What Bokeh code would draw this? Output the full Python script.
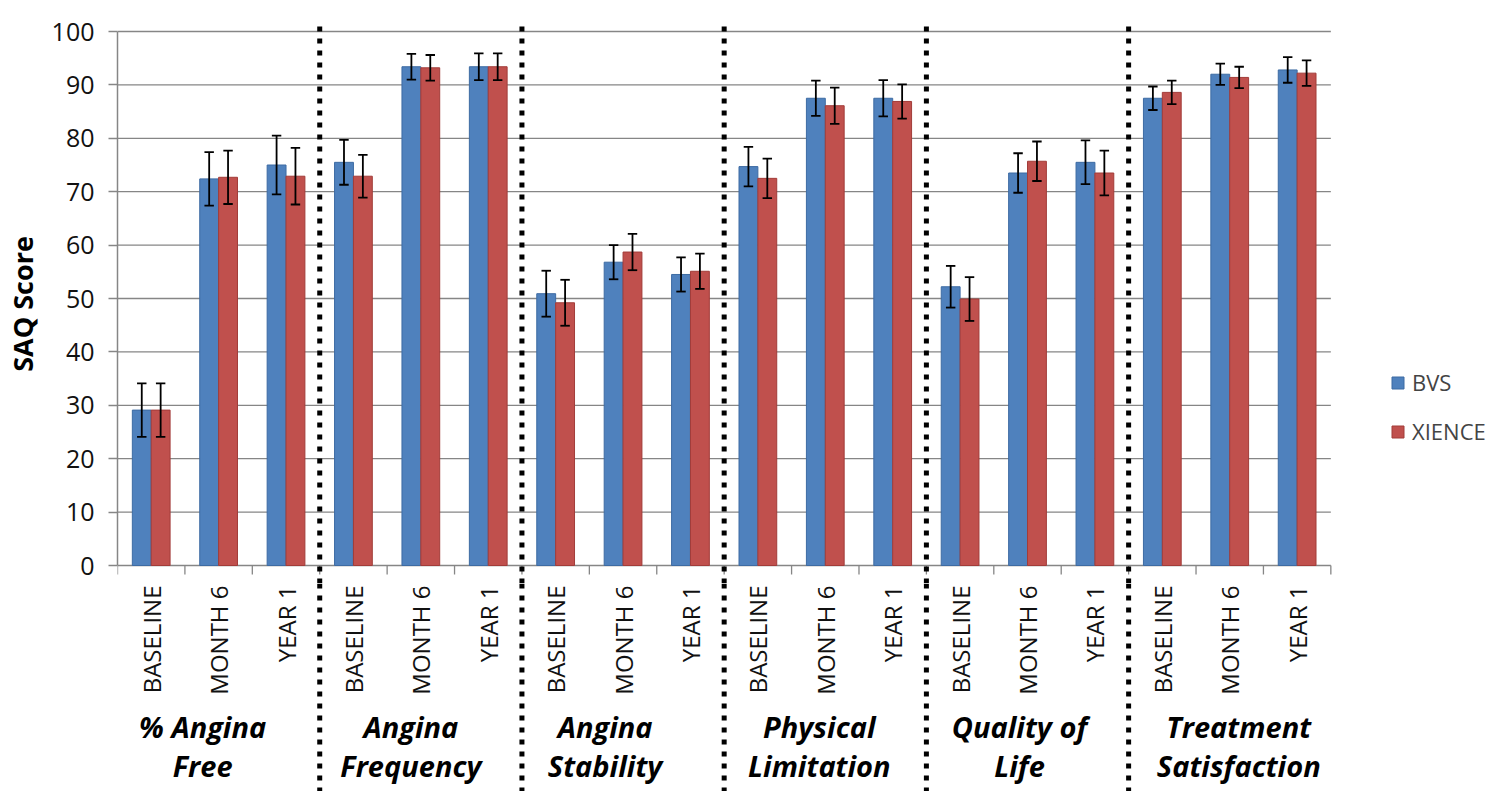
import numpy as np
from bokeh.plotting import figure
from bokeh.layouts import column
from bokeh.models import FixedTicker, ColumnDataSource, Range1d
from bokeh.core.properties import value
from bokeh.embed import file_html
from bokeh.resources import INLINE

# ---------------- data ----------------
groups = ["% Angina\nFree", "Angina\nFrequency", "Angina\nStability",
          "Physical\nLimitation", "Quality of\nLife", "Treatment\nSatisfaction"]
timepoints = ["BASELINE", "MONTH 6", "YEAR 1"]

bvs = [29.1, 72.4, 75.0, 75.5, 93.4, 93.4, 50.9, 56.8, 54.5,
       74.7, 87.5, 87.5, 52.2, 73.5, 75.5, 87.5, 92.0, 92.8]
bvs_err = [5.0, 5.0, 5.5, 4.2, 2.4, 2.5, 4.3, 3.2, 3.2,
           3.7, 3.3, 3.4, 3.9, 3.7, 4.1, 2.2, 2.0, 2.4]
xience = [29.1, 72.7, 72.9, 72.9, 93.2, 93.4, 49.2, 58.7, 55.1,
          72.5, 86.1, 86.9, 49.9, 75.7, 73.5, 88.6, 91.4, 92.2]
xience_err = [5.0, 5.0, 5.3, 4.0, 2.4, 2.5, 4.3, 3.4, 3.3,
              3.7, 3.4, 3.2, 4.1, 3.7, 4.2, 2.2, 2.0, 2.4]
series_names = ["BVS", "XIENCE"]
y_ticks = list(range(0, 101, 10))

# ---------------- layout constants ----------------
BLUE, BLUE_EDGE = "#4F81BD", "#3D6BA3"
RED, RED_EDGE = "#C0504D", "#A23C39"
GRAY = "#868686"
W = 1487
LEFT = 114
PX = 5.34                 # pixels per score unit
SLOT_PX = 1216 / 18       # pixels per category slot
BAR_W = 0.28
OFF = 0.14
CAP = 0.07
TOP_BORDER = 24
TOP_H, BOT_H = 583, 208
ZERO_PX = 565             # canvas y of the zero line
GROUP_NUDGE_PX = [-16, -10, -18, -6, -8, 9]

n = len(bvs)
x_end = (W - LEFT) / SLOT_PX
centers = np.arange(n) + 0.5
cat_labels = timepoints * len(groups)
group_centers = (np.arange(len(groups)) * len(timepoints) + len(timepoints) / 2
                 + np.array(GROUP_NUDGE_PX) / SLOT_PX)
boundaries = np.arange(n + 1)
seps = boundaries[len(timepoints):-1:len(timepoints)].astype(float)

b = np.array(bvs); be = np.array(bvs_err)
x = np.array(xience); xe = np.array(xience_err)

src = ColumnDataSource(dict(
    xb=centers - OFF, xx=centers + OFF,
    bvs=b, xience=x,
    bl=b - be, bu=b + be, xl=x - xe, xu=x + xe,
    xb0=centers - OFF - CAP, xb1=centers - OFF + CAP,
    xx0=centers + OFF - CAP, xx1=centers + OFF + CAP,
))

xr = Range1d(0, x_end)
y_top = (ZERO_PX - TOP_BORDER) / PX
y_lo = y_top - (TOP_H - TOP_BORDER) / PX
y_bot = y_lo - BOT_H / PX

# ---------------- top figure: plot area ----------------
p = figure(width=W, height=TOP_H, x_range=xr, y_range=Range1d(y_lo, y_top),
           output_backend="svg", toolbar_location=None, x_axis_location=None,
           min_border_left=LEFT, min_border_right=0,
           min_border_top=TOP_BORDER, min_border_bottom=0)
p.outline_line_color = None
p.grid.visible = False

ax = p.yaxis[0]
ax.ticker = FixedTicker(ticks=y_ticks)
ax.bounds = (y_ticks[0], y_ticks[-1])
ax.axis_line_color = GRAY
ax.axis_line_width = 1.5
ax.major_tick_out = 9
ax.major_tick_in = 0
ax.major_tick_line_color = GRAY
ax.major_tick_line_width = 1.3
ax.minor_tick_line_color = None
ax.major_label_text_font = "Open Sans"
ax.major_label_text_font_size = "25px"
ax.major_label_text_color = "#111111"
ax.major_label_standoff = 14
ax.axis_label = "SAQ Score"
ax.axis_label_text_font = "Open Sans"
ax.axis_label_text_font_style = "bold"
ax.axis_label_text_font_size = "27px"
ax.axis_label_text_color = "black"
ax.axis_label_standoff = 8

# horizontal gridlines across the category area only
p.segment(x0=0, x1=n, y0=y_ticks, y1=y_ticks, line_color=GRAY, line_width=1.3)
# x axis tick marks at slot boundaries
p.segment(x0=boundaries, x1=boundaries, y0=0, y1=-9 / PX, line_color=GRAY, line_width=1.3)

# bars
p.vbar(x="xb", top="bvs", bottom=0, width=BAR_W, source=src,
       fill_color=BLUE, line_color=BLUE_EDGE, line_width=1, legend_label=series_names[0])
p.vbar(x="xx", top="xience", bottom=0, width=BAR_W, source=src,
       fill_color=RED, line_color=RED_EDGE, line_width=1, legend_label=series_names[1])

# error bars
for xc, lo, hi, c0, c1 in [("xb", "bl", "bu", "xb0", "xb1"), ("xx", "xl", "xu", "xx0", "xx1")]:
    p.segment(x0=xc, x1=xc, y0=lo, y1=hi, source=src, line_color="black", line_width=1.8)
    p.segment(x0=c0, x1=c1, y0=lo, y1=lo, source=src, line_color="black", line_width=1.8)
    p.segment(x0=c0, x1=c1, y0=hi, y1=hi, source=src, line_color="black", line_width=1.8)

# dotted separators (plot area part)
p.segment(x0=seps, x1=seps, y0=y_lo, y1=y_top, line_color="black",
          line_width=5, line_dash="5 7")

leg = p.legend[0]
leg.location = (1273, 137)
leg.border_line_color = None
leg.background_fill_alpha = 0
leg.padding = 0
leg.margin = 0
leg.spacing = 19
leg.glyph_width = 15
leg.glyph_height = 15
leg.label_standoff = 7
leg.label_text_font = "Open Sans"
leg.label_text_font_size = "22px"

# ---------------- bottom figure: category & group labels ----------------
q = figure(width=W, height=BOT_H, x_range=xr, y_range=Range1d(y_bot, y_lo),
           output_backend="svg", toolbar_location=None,
           x_axis_location=None, y_axis_location=None,
           min_border_left=LEFT, min_border_right=0,
           min_border_top=0, min_border_bottom=0)
q.outline_line_color = None
q.grid.visible = False

# category labels
q.text(x=centers, y=-20 / PX, text=cat_labels, angle=np.pi / 2,
       text_align="right", text_baseline="middle",
       text_font=value("Open Sans"), text_font_size="24px", text_color="#111111")

# group labels
q.text(x=group_centers, y=-(745 - ZERO_PX) / PX, text=groups,
       text_align="center", text_baseline="middle",
       text_font=value("Open Sans"), text_font_style="bold italic",
       text_font_size="29px", text_line_height=1.0, text_color="black")

# dotted separators (label area part)
q.segment(x0=seps, x1=seps, y0=y_lo, y1=y_bot, line_color="black",
          line_width=5, line_dash="5 7")

layout = column(p, q, spacing=0)
open("out.html", "w").write(file_html(layout, INLINE))
